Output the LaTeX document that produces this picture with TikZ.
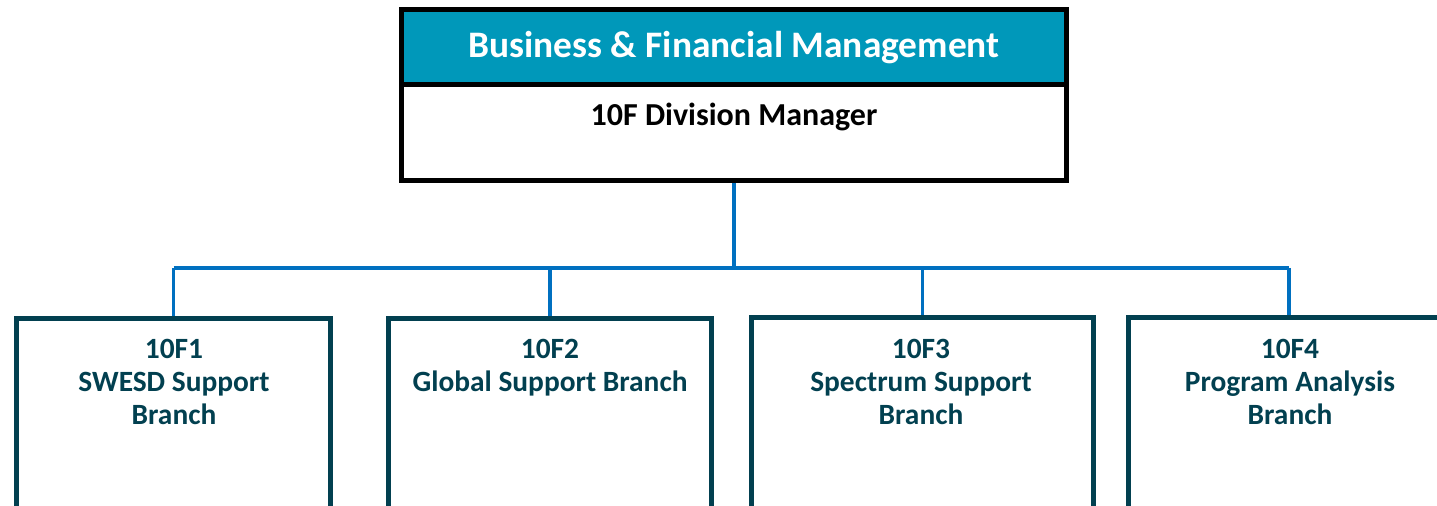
\documentclass[tikz,border=0pt]{standalone}
\usepackage{fontspec}
\setmainfont{Carlito}
\definecolor{hdrteal}{RGB}{0,152,186}
\definecolor{boxteal}{RGB}{2,64,80}
\definecolor{connblue}{RGB}{0,112,192}
\begin{document}
\begin{tikzpicture}[x=0.5pt,y=-0.5pt,
  hdrbox/.style={draw=black, line width=2.5pt, fill=hdrteal, minimum width=332.5pt, minimum height=37.75pt, inner sep=0pt},
  mgrbox/.style={draw=black, line width=2.5pt, fill=white, minimum width=332.5pt, minimum height=47.75pt, inner sep=0pt},
  hdrtext/.style={text=white, font=\fontsize{18.7}{21}\selectfont\bfseries, inner sep=0pt},
  mgrtext/.style={text=black, font=\fontsize{16}{18}\selectfont\bfseries, inner sep=0pt},
  branchbox/.style={draw=boxteal, line width=2.5pt, fill=white, minimum height=120.5pt, inner sep=0pt},
  branchtext/.style={text=boxteal, font=\fontsize{14.7}{16.5}\selectfont\bfseries, align=center, anchor=north, inner sep=0pt},
  conn/.style={draw=connblue, line width=1.7pt}]
\useasboundingbox (0,0) rectangle (1437,506);
\clip (0,0) rectangle (1437,506);
% top box
\node[mgrbox] (mgr) at (734,132.75) {};
\node[hdrbox] (hdr) at (734,47.25) {};
\node[hdrtext] (hdrt) at (734,48) {Business \& Financial Management};
\node[mgrtext] (mgrt) at (734,117) {10F Division Manager};
% connectors
\coordinate (bus) at (734,268);
\draw[conn] (mgr.south) -- (bus);
\coordinate (d1) at (173.5,268);
\coordinate (d2) at (550,268);
\coordinate (d3) at (922.5,268);
\coordinate (d4) at (1289,268);
\draw[conn] (d1) -- (d4);
\draw[conn] (d1) -- (173.5,319);
\draw[conn] (d2) -- (550,319);
\draw[conn] (d3) -- (922.5,318);
\draw[conn] (d4) -- (1289,318);
% branch boxes
\node[branchbox, minimum width=157pt] (b1) at (173.5,439.5) {};
\node[branchbox, minimum width=161.5pt] (b2) at (550,439.5) {};
\node[branchbox, minimum width=171pt] (b3) at (922.5,438) {};
\node[branchbox, minimum width=160.5pt] (b4) at (1289,438) {};
\node[branchtext] (t1) at (174,339) {10F1\\SWESD Support\\Branch};
\node[branchtext] (t2) at (550,339) {10F2\\Global Support Branch};
\node[branchtext] (t3) at (921,339) {10F3\\Spectrum Support\\Branch};
\node[branchtext] (t4) at (1290,339) {10F4\\Program Analysis\\Branch};
\end{tikzpicture}
\end{document}
